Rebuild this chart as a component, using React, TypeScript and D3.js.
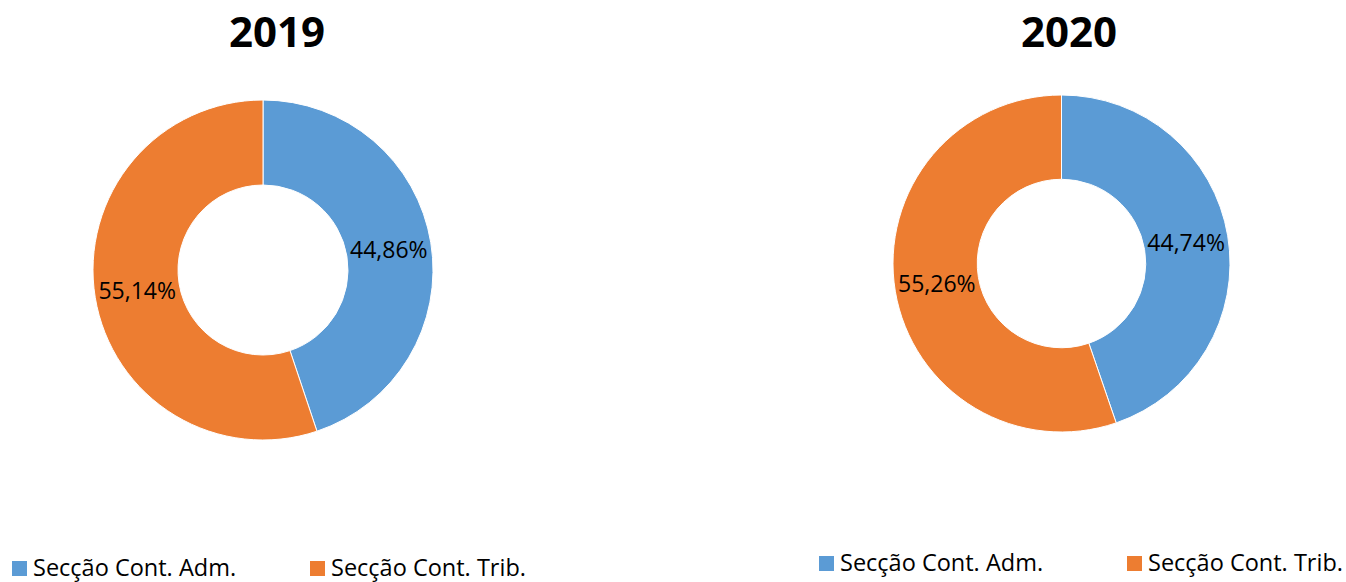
import React from 'react';
import * as d3 from 'd3';

const categories = ['Secção Cont. Adm.', 'Secção Cont. Trib.'];
const colors = ['#5b9bd5', '#ed7d31'];
const years = ['2019', '2020'];
const values2019 = [44.86, 55.14];
const values2020 = [44.74, 55.26];

const FONT = '"Open Sans", "Noto Sans", sans-serif';

interface DonutProps {
    title: string;
    values: number[];
    cx: number;
    cy: number;
    r: number;
    titleX: number;
    legendX: number;
    legendY: number;
    legendGap: number;
}

const fmt = (v: number) => v.toFixed(2).replace('.', ',') + '%';

const Donut: React.FC<DonutProps> = ({ title, values, cx, cy, r, titleX, legendX, legendY, legendGap }) => {
    const pie = d3.pie<number>().sort(null).value(d => d);
    const arcs = pie(values);
    const arc = d3.arc<d3.PieArcDatum<number>>().innerRadius(r * 0.5).outerRadius(r);

    return (
        <g>
            <text x={titleX} y={47} textAnchor="middle" fontFamily={FONT} fontWeight="bold" fontSize={42} fill="#000">
                {title}
            </text>
            <g transform={`translate(${cx},${cy})`}>
                {arcs.map((a, i) => (
                    <path key={i} d={arc(a) || ''} fill={colors[i]} stroke="#fff" strokeWidth={1} />
                ))}
                {arcs.map((a, i) => {
                    const [x, y] = arc.centroid(a);
                    return (
                        <text key={'l' + i} x={x} y={y} dy="0.35em" textAnchor="middle" fontFamily={FONT} fontSize={23} fill="#000">
                            {fmt(a.data)}
                        </text>
                    );
                })}
            </g>
            {categories.map((c, i) => (
                <g key={c} transform={`translate(${legendX + i * legendGap},${legendY})`}>
                    <rect x={0} y={-15} width={15} height={15} fill={colors[i]} />
                    <text x={21} y={0} fontFamily={FONT} fontSize={23.5} fill="#000">{c}</text>
                </g>
            ))}
        </g>
    );
};

export default function App() {
    return (
        <svg width={1346} height={582} style={{ position: 'absolute', left: 0, top: 0, background: '#fff' }}>
            <Donut title={years[0]} values={values2019} cx={263} cy={270} r={170} titleX={277} legendX={12} legendY={576} legendGap={298} />
            <Donut title={years[1]} values={values2020} cx={1061.5} cy={263.5} r={168.5} titleX={1069} legendX={819} legendY={571} legendGap={308} />
        </svg>
    );
}
